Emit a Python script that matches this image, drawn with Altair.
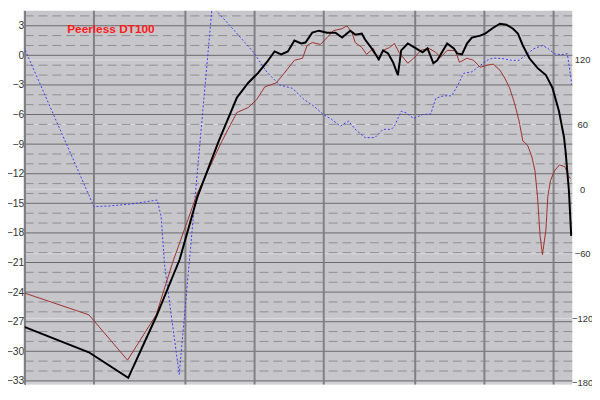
import altair as alt
import pandas as pd

# ---------------- data ----------------
black_freq = [94.2, 190, 282, 373, 472, 563, 698, 837, 937, 1034, 1130, 1222, 1305, 1396,
              1490, 1596, 1665, 1782, 1906, 2067, 2249, 2403, 2608, 2741, 2928, 3025, 3232,
              3339, 3474, 3625, 3809, 4002, 4204, 4345, 4641, 5040, 5383, 5655, 5998, 6237,
              6887, 7361, 7605, 7990, 8396, 8820, 9580, 10070, 10930, 11680, 12470, 13320,
              13990, 14700, 15700, 17050, 18520, 19780, 21130, 22200, 22550, 23320, 23870]
black_db = [-27.3, -30.1, -32.7, -26.5, -20.7, -14.4, -8.7, -4.3, -2.8, -1.8, -0.7, 0.4, 0.1, 0.4,
            1.5, 1.2, 1.3, 2.3, 2.5, 2.3, 2.3, 1.8, 2.5, 2.1, 2.2, 1.6, 0.7,
            0.2, -0.4, 0.5, 0.2, -0.7, -2.0, 0.5, 1.2, 0.7, 0.3, 0.7, -0.8, -0.5,
            1.2, 0.7, 0.2, 0.1, 1.2, 1.8, 2.0, 2.2, 2.8, 3.2, 3.1, 2.7,
            2.2, 1.0, -0.3, -1.3, -2.0, -3.3, -5.7, -8.3, -9.7, -13.7, -18.3]

red_freq = [94.2, 190, 280, 373, 440, 563, 721, 837, 937, 1020, 1107, 1241, 1347, 1490, 1616,
            1693, 1782, 1934, 2067, 2201, 2403, 2522, 2652, 2741, 2928, 3072, 3286, 3452,
            3625, 3869, 4060, 4250, 4641, 4920, 5286, 5740, 6146, 6446, 6887, 7480, 7786,
            8396, 8970, 9580, 10270, 10930, 11680, 12260, 12870, 13500, 14170, 14700, 14950,
            15470, 16090, 16600, 17020, 17470, 17890, 18520, 18880, 19390, 20200, 21220,
            22420, 23160, 23700]
red_db = [-23.9, -26.3, -30.9, -26.3, -21.0, -14.0, -8.7, -5.8, -5.3, -4.5, -3.2, -2.8, -1.8, -0.5, -0.3,
          1.0, 1.3, 1.1, 1.8, 2.5, 2.7, 3.0, 2.3, 1.3, 0.8, 0.1, 0.7, -0.5,
          0.5, 0.8, 1.2, 0.3, -0.8, -0.3, 0.5, 0.7, 0.3, -0.2, 0.5, 0.5, -0.7,
          -0.3, -0.5, -1.2, -1.0, -0.9, -1.5, -2.3, -3.3, -4.8, -6.7, -8.7, -8.8,
          -9.2, -10.3, -11.7, -14.3, -18.3, -20.2, -17.7, -14.3, -12.7, -11.7, -11.1,
          -11.3, -12.2, -12.5]

phase_freq = [94.2, 200, 232, 292, 377, 392, 406, 470, 654, 782, 988, 1129, 1284, 1460, 1645,
              1813, 1996, 2165, 2362, 2565, 2741, 3025, 3339, 3625, 3937, 4060, 4345, 4568,
              4920, 5383, 5842, 6146, 6650, 7203, 7605, 8115, 8820, 9420, 10270, 10930,
              12050, 13100, 14170, 15100, 16360, 17920, 19010, 20190, 21600, 22950, 24100]
phase_deg = [142.6, -16.2, -15.6, -13.7, -10.1, -25.4, -71, -172, 170, 151.8, 127.3, 109, 96.8, 93.7, 83.1,
             77, 69.3, 64.8, 58.6, 63.2, 55.6, 47.9, 47.9, 55.6, 55.6, 58.6, 72.4, 70.8,
             65.7, 69.3, 69.9, 84.5, 86.7, 86.7, 95.3, 107.5, 109, 113.6, 119.7, 121.8,
             121.2, 119.7, 119.7, 124.3, 130.3, 133.5, 130.3, 125.8, 124.9, 125.8, 95.3]

freq_ticks = [100, 200, 500, 1000, 2000, 5000, 10000, 20000]
db_major = [3, 0, -3, -6, -9, -12, -15, -18, -21, -24, -27, -30, -33]
db_minor = [4, 2, 1, -1, -2, -4, -5, -7, -8, -10, -11, -13, -14, -16, -17, -19, -20,
            -22, -23, -25, -26, -28, -29, -31, -32]
phase_ticks = [120, 60, 0, -60, -120, -180]
title_text = ["Peerless DT100"]

X_DOMAIN = [100, 24120]
DB_DOMAIN = [-33.37, 4.53]
PH_DOMAIN = [-181.4, 165.8]
FONT = "Liberation Sans"

xs = alt.Scale(type="log", domain=X_DOMAIN, nice=False)
ys = alt.Scale(domain=DB_DOMAIN, nice=False, zero=False)
ps = alt.Scale(domain=PH_DOMAIN, nice=False, zero=False)

black_df = pd.DataFrame({"f": black_freq, "db": black_db})
red_df = pd.DataFrame({"f": red_freq, "db": red_db})
phase_df = pd.DataFrame({"f": phase_freq, "deg": phase_deg})

phase_grid = alt.Chart(pd.DataFrame({"p": phase_ticks})).mark_rule(
    color="#dcdce0", strokeWidth=1
).encode(y=alt.Y("p:Q", scale=ps, axis=None))

minor = alt.Chart(pd.DataFrame({"v": db_minor})).mark_rule(
    color="#8e8e92", strokeWidth=1, strokeDash=[9, 5]
).encode(y=alt.Y("v:Q", scale=ys, axis=None))

major = alt.Chart(pd.DataFrame({"v": db_major})).mark_rule(
    color="#6a6a6e", strokeWidth=1
).encode(
    y=alt.Y("v:Q", scale=ys, title=None,
            axis=alt.Axis(orient="left", values=db_major, grid=False, ticks=False,
                          domain=True, domainColor="#606064", domainWidth=1,
                          labelPadding=1, labelFontSize=10.5, labelFont=FONT,
                          labelColor="#333333", labelBaseline="middle"))
)

vgrid = alt.Chart(pd.DataFrame({"f": freq_ticks})).mark_rule(
    color="#808084", strokeWidth=2
).encode(
    x=alt.X("f:Q", scale=xs, title=None,
            axis=alt.Axis(values=freq_ticks, grid=False, ticks=False, domain=False,
                          labelPadding=2, labelFontSize=11, labelFont=FONT,
                          labelColor="#333333", labelBaseline="top",
                          labelExpr="datum.value >= 1000 ? (datum.value / 1000) + 'K' : datum.value"))
)

red = alt.Chart(red_df).mark_line(color="#a0302c", strokeWidth=1, clip=True).encode(
    x=alt.X("f:Q", scale=xs, axis=None),
    y=alt.Y("db:Q", scale=ys, axis=None),
    order="f:Q",
)

black = alt.Chart(black_df).mark_line(color="#000000", strokeWidth=2, clip=True).encode(
    x=alt.X("f:Q", scale=xs, axis=None),
    y=alt.Y("db:Q", scale=ys, axis=None),
    order="f:Q",
)

blue = alt.Chart(phase_df).mark_line(
    color="#3c3cf0", strokeWidth=1, strokeDash=[2, 2], clip=True
).encode(
    x=alt.X("f:Q", scale=xs, axis=None),
    y=alt.Y("deg:Q", scale=ps, title=None,
            axis=alt.Axis(orient="right", values=phase_ticks, grid=False, ticks=False,
                          domain=False, labelPadding=10, labelAlign="center",
                          labelFontSize=9.5, labelFont=FONT, labelColor="#333333",
                          labelBaseline="middle")),
    order="f:Q",
)

title = alt.Chart(pd.DataFrame({"t": title_text})).mark_text(
    align="left", baseline="alphabetic", fontSize=12, fontWeight="bold",
    font=FONT, color="#ff1a1a"
).encode(text="t:N", x=alt.value(43), y=alt.value(23))

chart = alt.layer(
    phase_grid, minor, major, vgrid, blue, red, black, title
).resolve_scale(y="independent").properties(
    width=555,
    height=379,
    padding={"left": 17, "top": 0, "right": 20, "bottom": 13},
    autosize=alt.AutoSizeParams(type="none"),
    background="#ffffff",
).configure_view(fill="#c6c6cb", stroke=None)

chart.save("out.html", embed_options={"renderer": "svg", "actions": False})
